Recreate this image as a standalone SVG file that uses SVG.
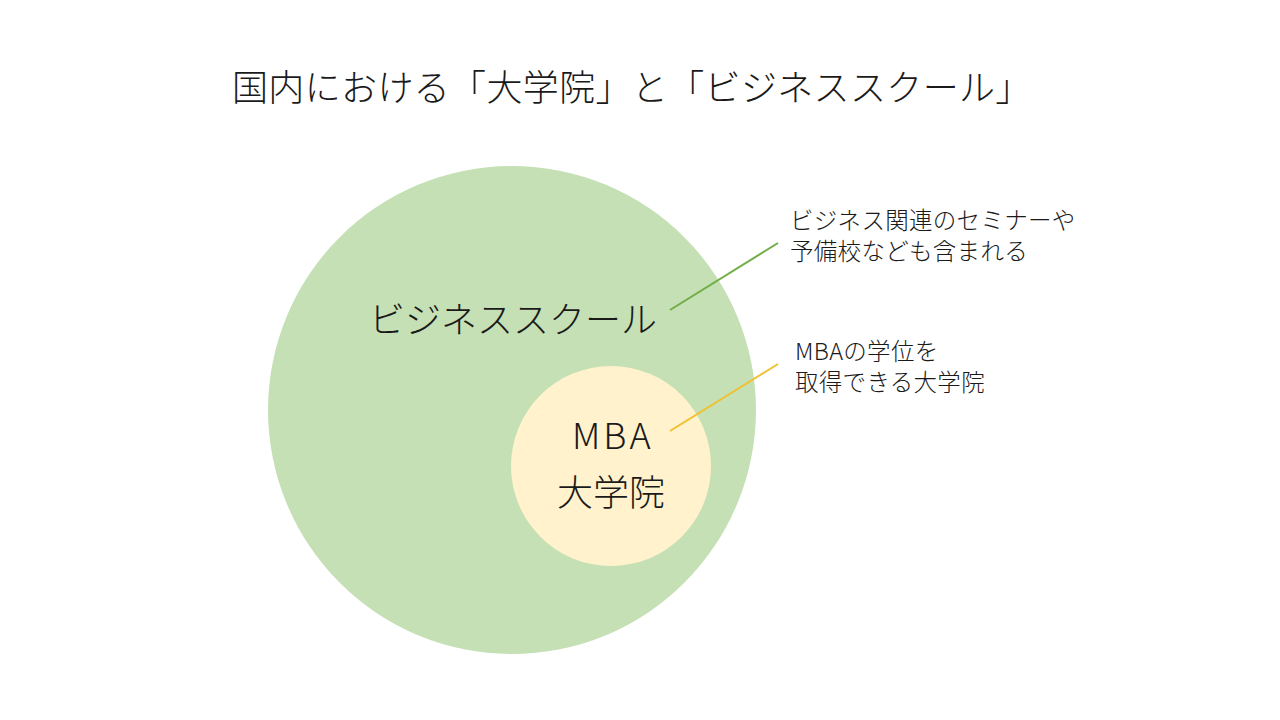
<svg xmlns="http://www.w3.org/2000/svg" width="1280" height="720" viewBox="0 0 1280 720">
<style>
text{font-family:"Noto Sans CJK JP","Noto Sans",sans-serif;fill:#1a1a1a;font-weight:300}
.big{font-size:36px}
.note{font-size:23.5px;letter-spacing:0.3px}
</style>
<rect width="1280" height="720" fill="#ffffff"/>
<text class="big" x="232" y="101" letter-spacing="0.35">国内における「大学院」と「ビジネススクール」</text>
<g id="business-school">
<circle cx="512" cy="410" r="244" fill="#C5E0B4"/>
<text class="big" x="513" y="333" text-anchor="middle">ビジネススクール</text>
</g>
<g id="mba">
<circle cx="611" cy="466" r="100" fill="#FFF2CC"/>
<text class="big" x="572" y="449" letter-spacing="3">MBA</text>
<text class="big" x="611" y="506" text-anchor="middle">大学院</text>
</g>
<g id="connectors">
<line x1="670" y1="310" x2="778" y2="243" stroke="#70AD47" stroke-width="2"/>
<line x1="670" y1="431" x2="778" y2="364" stroke="#F0C030" stroke-width="2"/>
</g>
<g id="note-business">
<text class="note"><tspan x="790" y="229">ビジネス関連のセミナーや</tspan><tspan x="790" y="260">予備校なども含まれる</tspan></text>
</g>
<g id="note-mba">
<text class="note"><tspan x="795" y="360">MBAの学位を</tspan><tspan x="795" y="391">取得できる大学院</tspan></text>
</g>
</svg>
